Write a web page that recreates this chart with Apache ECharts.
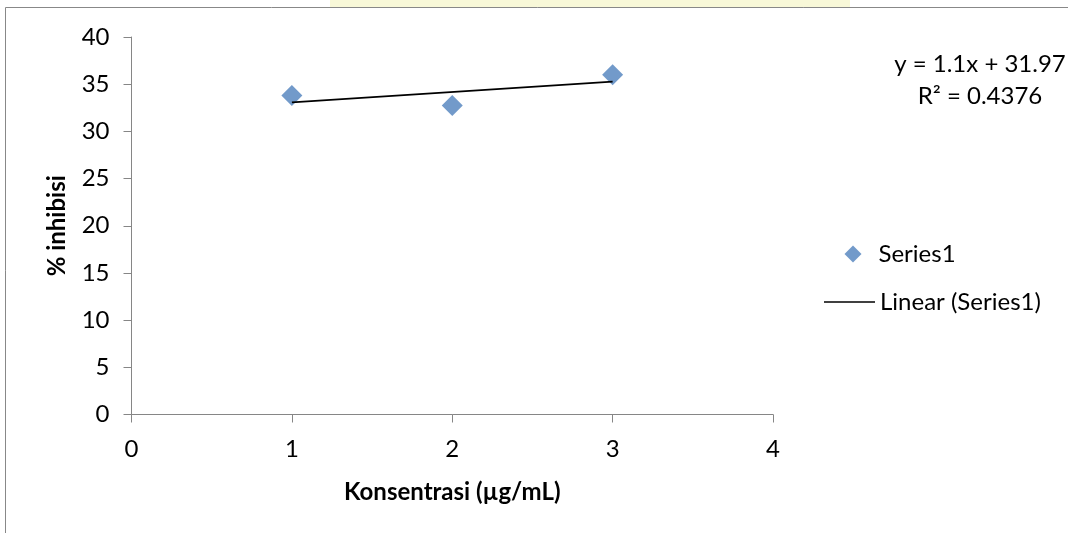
<!DOCTYPE html>
<html>
<head>
<meta charset="utf-8">
<script src="https://cdn.jsdelivr.net/npm/echarts@6/dist/echarts.min.js"></script>
<style>html,body{margin:0;padding:0;background:#fff}#c{width:1068px;height:533px}</style>
</head>
<body>
<div id="c"></div>
<script>
// Data
const xValues = [1, 2, 3];
const yValues = [33.8, 32.75, 36.0];
const trendX = [1, 3];
const trendY = [33.07, 35.27];
const slope = 1.1;
const intercept = 31.97;
const rSquared = 0.4376;
const xTicks = [0, 1, 2, 3, 4];
const yTicks = [0, 5, 10, 15, 20, 25, 30, 35, 40];
const seriesName = 'Series1';
const trendName = 'Linear (Series1)';
const xTitle = 'Konsentrasi (µg/mL)';
const yTitle = '% inhibisi';

const FONT = 'Lato';
const chart = echarts.init(document.getElementById('c'), null, {renderer: 'canvas'});
const axisGrey = '#868686';

chart.setOption({
  animation: false,
  backgroundColor: '#fff',
  textStyle: {fontFamily: FONT},
  grid: {left: 131.5, right: 295, top: 37, bottom: 118.5, containLabel: false},
  xAxis: {
    type: 'value', min: xTicks[0], max: xTicks[xTicks.length - 1], interval: 1,
    name: xTitle, nameLocation: 'middle', nameGap: 66,
    nameTextStyle: {fontFamily: FONT, fontSize: 24, fontWeight: 'bold', color: '#000'},
    axisLine: {show: true, lineStyle: {color: axisGrey, width: 1}},
    axisTick: {show: true, length: 8, lineStyle: {color: axisGrey}},
    axisLabel: {fontFamily: FONT, fontSize: 24, color: '#000', margin: 23},
    splitLine: {show: false}
  },
  yAxis: {
    type: 'value', min: yTicks[0], max: yTicks[yTicks.length - 1], interval: 5,
    name: yTitle, nameLocation: 'middle', nameGap: 62, nameRotate: 90,
    nameTextStyle: {fontFamily: FONT, fontSize: 24, fontWeight: 'bold', color: '#000'},
    axisLine: {show: true, lineStyle: {color: axisGrey, width: 1}},
    axisTick: {show: true, length: 8, lineStyle: {color: axisGrey}},
    axisLabel: {fontFamily: FONT, fontSize: 24, color: '#000', margin: 22},
    splitLine: {show: false}
  },
  legend: [
    {
      data: [{name: seriesName, icon: 'diamond'}],
      left: 839.5, top: 237, orient: 'vertical',
      itemWidth: 17, itemHeight: 17,
      textStyle: {fontFamily: FONT, fontSize: 24, color: '#000', padding: [0, 0, 0, 12]},
      selectedMode: false
    },
    {
      data: [{name: trendName, icon: 'rect'}],
      left: 819, top: 285, orient: 'vertical',
      itemWidth: 51, itemHeight: 1.5,
      textStyle: {fontFamily: FONT, fontSize: 24, color: '#000'},
      selectedMode: false
    }
  ],
  graphic: [
    {type: 'rect', silent: true, z: -20, shape: {x: 330, y: 0, width: 520, height: 7},
     style: {fill: '#f8f8d8'}},
    {type: 'rect', silent: true, z: -10, shape: {x: 5.5, y: 7.5, width: 1200, height: 700},
     style: {fill: 'none', stroke: '#888', lineWidth: 1}},
    {type: 'text', x: 980, y: 64, style: {text: 'y = ' + slope + 'x + ' + intercept, fontFamily: FONT, fontSize: 24, fill: '#000', align: 'center', verticalAlign: 'middle'}},
    {type: 'text', x: 980, y: 96, style: {text: 'R² = ' + rSquared, fontFamily: FONT, fontSize: 24, fill: '#000', align: 'center', verticalAlign: 'middle'}}
  ],
  series: [
    {
      name: seriesName, type: 'scatter', symbol: 'diamond', symbolSize: 21,
      itemStyle: {color: '#4F81BD'},
      data: xValues.map((x, i) => [x, yValues[i]]), z: 3
    },
    {
      name: trendName, type: 'line', symbol: 'none', silent: true,
      lineStyle: {color: '#000', width: 1.8},
      itemStyle: {color: '#000'},
      data: trendX.map((x, i) => [x, trendY[i]]), z: 4
    }
  ]
});
</script>
</body>
</html>
